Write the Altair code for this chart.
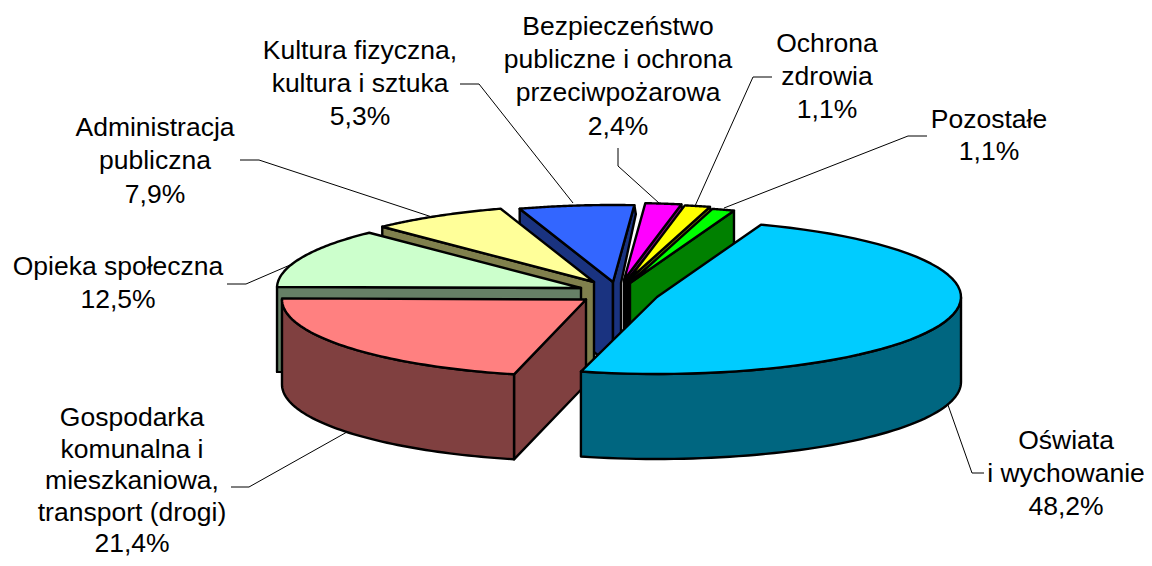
import numpy as np
import pandas as pd
import altair as alt

# Slices in clockwise order from the start angle
names = ["Oświata i wychowanie", "Gospodarka komunalna", "Opieka społeczna", "Administracja publiczna",
         "Kultura", "Bezpieczeństwo", "Ochrona zdrowia", "Pozostałe"]
shares = [48.2, 21.4, 12.5, 7.9, 5.3, 2.4, 1.1, 1.1]
top_colors = ["#00CCFF", "#FF8080", "#CCFFCC", "#FFFF99", "#3366FF", "#FF00FF", "#FFFF00", "#00FF00"]
wall_colors = ["#006680", "#804040", "#668066", "#80804D", "#1A3380", "#800080", "#808000", "#008000"]
apex_x = [657, 586, 581, 594, 613, 624, 627.5, 630]
apex_y = [297, 299.5, 288, 282, 282, 280, 281, 283]
# how far the picture's perspective moves each slice's edge from its share of the circle
edge_shift = [0, 0, 0, 0, -2.2, 0.6, -1.2, -0.3, 0]
# extra sweep of a slice's closing edge
end_extra = [0.8, 0, 0, 0, 0, 0, 0, 0]
# width of the visible column of the far cut face (None = whole face)
face_column = [None, None, None, None, 8, 2, 2, None]
paint_order = [4, 5, 6, 7, 3, 2, 1, 0]

START_ANGLE, RX, RY, DEPTH = 20.0, 304.0, 77.0, 85.0

label_lines = ["Kultura fizyczna,", "kultura i sztuka", "5,3%",
               "Administracja", "publiczna", "7,9%",
               "Bezpieczeństwo", "publiczne i ochrona", "przeciwpożarowa", "2,4%",
               "Ochrona", "zdrowia", "1,1%",
               "Pozostałe", "1,1%",
               "Opieka społeczna", "12,5%",
               "Oświata", "i wychowanie", "48,2%",
               "Gospodarka", "komunalna i", "mieszkaniowa,", "transport (drogi)", "21,4%"]
label_x = [360, 360, 360, 155, 155, 155, 618, 618, 618, 618, 827, 827, 827, 989, 989,
           118, 118, 1066, 1066, 1066, 132, 132, 132, 132, 132]
label_y = [51, 84, 117, 128, 161, 195, 27, 60, 93, 127, 44, 77, 110, 120, 152,
           267, 300, 441, 474, 507, 418, 449.5, 481, 512.5, 544]

leaders = [
    ([460, 479, 573], [84, 84, 203]),
    ([240, 259, 432], [160, 160, 217]),
    ([618, 618, 659], [148, 166, 203]),
    ([772, 753, 695], [77, 77, 206]),
    ([927, 908, 724], [136, 136, 208]),
    ([227, 246, 297], [284, 284, 262]),
    ([984, 972, 948], [473, 473, 405]),
    ([231, 249, 347], [487, 487, 432]),
]

x_scale = alt.Scale(domain=[8, 1144], range=[0, 1136], nice=False, zero=False)
y_scale = alt.Scale(domain=[8, 558], range=[0, 550], nice=False, zero=False)
X = alt.X("x:Q", scale=x_scale, axis=None)
Y = alt.Y("y:Q", scale=y_scale, axis=None)


def rim(i, angle):
    t = np.radians(angle)
    return apex_x[i] + RX * np.sin(t), apex_y[i] - RY * np.cos(t)


def polygon(pts, fill):
    df = pd.DataFrame(pts + [pts[0]], columns=["x", "y"])
    df["o"] = range(len(df))
    return alt.Chart(df).mark_line(fill=fill, stroke="black", strokeWidth=2.4, strokeJoin="round",
                                   strokeCap="round", interpolate="linear", clip=False).encode(
        x=X, y=Y, order=alt.Order("o:Q"))


def arc(i, a, b, n=60, dy=0.0):
    return [(rim(i, t)[0], rim(i, t)[1] + dy) for t in np.linspace(a, b, n)]


def cut_face(i, angle, column=None):
    ax, ay = apex_x[i], apex_y[i]
    cx, cy = rim(i, angle)
    if column is None:
        return [(ax, ay), (cx, cy), (cx, cy + DEPTH), (ax, ay + DEPTH)]
    return [(ax, ay), (cx, cy), (cx + 1.5, cy + 9), (ax + column, ay + 1),
            (ax + column, ay + DEPTH), (ax, ay + DEPTH)]


edges = START_ANGLE + np.concatenate([[0], np.cumsum(shares)]) / sum(shares) * 360 + np.array(edge_shift)

layers = []
for k, (xs, ys) in enumerate(leaders):
    df = pd.DataFrame({"x": xs, "y": ys, "o": range(len(xs))})
    layers.append(alt.Chart(df).mark_line(color="black", strokeWidth=1).encode(x=X, y=Y, order=alt.Order("o:Q")))

for i in paint_order:
    a, b = edges[i], edges[i + 1] + end_extra[i]
    if np.sin(np.radians(a)) < 0:
        layers.append(polygon(cut_face(i, a), wall_colors[i]))
    if np.sin(np.radians(b)) > 0:
        layers.append(polygon(cut_face(i, b, face_column[i]), wall_colors[i]))
    lo, hi = max(a, 90), min(b, 270)
    if lo < hi:
        layers.append(polygon(arc(i, lo, hi) + arc(i, hi, lo, dy=DEPTH), wall_colors[i]))
    layers.append(polygon([(apex_x[i], apex_y[i])] + arc(i, a, b), top_colors[i]))

labels = pd.DataFrame({"x": label_x, "y": label_y, "t": label_lines})
layers.append(alt.Chart(labels).mark_text(font="Liberation Sans", fontSize=26.5, color="black",
                                          align="center", baseline="middle").encode(x=X, y=Y, text="t:N"))

chart = alt.layer(*layers).properties(
    width=1136, height=550, padding=0, autosize=alt.AutoSizeParams(type="none"),
    background="white"
).configure_view(stroke=None)

chart.save("out.html", embed_options={"renderer": "svg", "actions": False})
